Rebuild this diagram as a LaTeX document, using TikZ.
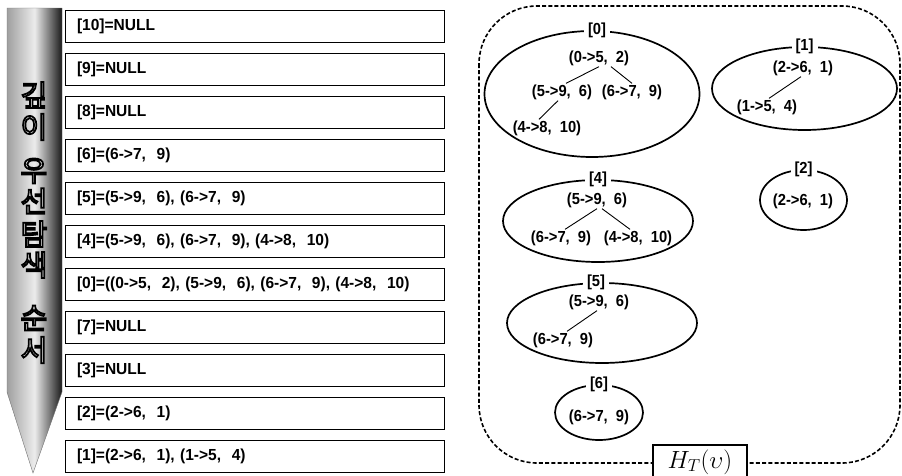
\documentclass[tikz,border=0pt]{standalone}
\usepackage{fontspec}
\setmainfont{Liberation Sans}
\newfontfamily\entryfont[FakeStretch=0.92]{Liberation Sans}
\newfontfamily\rowfont[FakeStretch=0.97]{Liberation Sans}
\newfontfamily\korfont[FakeBold=6]{Noto Sans CJK KR}
\usetikzlibrary{shapes.geometric,shadows}
% white glyph body, black stroke (the emboldening stroke takes the stroke colour)
\newcommand\rimmed[1]{\special{pdf:bcolor [1 1 1] [0 0 0]}#1\special{pdf:ecolor}}

\tikzset{
  rowbox/.style={draw, line width=0.9pt, fill=white, minimum height=32pt,
    text width=355pt, inner xsep=12pt, align=left,
    font=\rowfont\bfseries\fontsize{16}{16}\selectfont,
    drop shadow={shadow xshift=1.3pt, shadow yshift=-1.3pt, fill=black, opacity=1}},
  grp/.style={ellipse, draw, line width=1.7pt, inner sep=0pt},
  grplabel/.style={fill=white, inner xsep=4pt, inner ysep=1pt,
    font=\entryfont\bfseries\fontsize{16}{16}\selectfont},
  entry/.style={inner sep=1pt, font=\entryfont\bfseries\fontsize{16}{16}\selectfont},
  treeedge/.style={line width=0.9pt},
  hanchar/.style={font=\korfont\fontsize{29}{29}\selectfont, inner sep=0pt},
}

\begin{document}
\begin{tikzpicture}[x=1pt, y=-1pt]
\useasboundingbox (0,0) rectangle (902,475);
\clip (0,0) rectangle (902,475);

% search-order arrow
\shade[left color=gray!75, right color=black!90, middle color=white!85!gray,
       draw=black!55, line width=0.4pt]
  (7,8) -- (62,8) -- (62,392) -- (33,473) -- (7,392) -- cycle;

% vertical caption: white letters with a black rim
\foreach \ch/\yy [count=\k] in {깊/95, 이/127, 우/171, 선/201, 탐/234, 색/265, 순/318, 서/350}
  \node[hanchar] (hk\k) at (34,\yy) {\rimmed{\ch}};

% row list
\node[rowbox] (r10) at (254.5,26)  {[10]=NULL};
\node[rowbox] (r9)  at (254.5,69)  {[9]=NULL};
\node[rowbox] (r8)  at (254.5,112) {[8]=NULL};
\node[rowbox] (r6)  at (254.5,155) {[6]=(6->7,\ \ 9)};
\node[rowbox] (r5)  at (254.5,198) {[5]=(5->9,\ \ 6), (6->7,\ \ 9)};
\node[rowbox] (r4)  at (254.5,241) {[4]=(5->9,\ \ 6), (6->7,\ \ 9), (4->8,\ \ 10)};
\node[rowbox] (r0)  at (254.5,284) {[0]=((0->5,\ \ 2), (5->9,\ \ 6), (6->7,\ \ 9), (4->8,\ \ 10)};
\node[rowbox] (r7)  at (254.5,327) {[7]=NULL};
\node[rowbox] (r3)  at (254.5,370) {[3]=NULL};
\node[rowbox] (r2)  at (254.5,413) {[2]=(2->6,\ \ 1)};
\node[rowbox] (r1)  at (254.5,456) {[1]=(2->6,\ \ 1), (1->5,\ \ 4)};

% dashed frame of H_T(v)
\draw[dashed, dash pattern=on 4pt off 2.2pt, line width=1.6pt, rounded corners=58pt]
  (479,6) rectangle (900,463);
\node[draw, fill=white, line width=1.3pt, minimum width=94pt, minimum height=34pt,
      inner sep=0pt] (ht) at (700,462) {\fontsize{24}{24}\selectfont$H_{T}(\upsilon)$};

% group [0]
\node[grp, minimum width=215pt, minimum height=126pt] (e0) at (592,94) {};
\node[grplabel] (g0) at ([xshift=5pt]e0.north) {[0]};
\node[entry] (a0) at (599,58)  {(0->5,\ \ 2)};
\node[entry] (a1) at (562,92)  {(5->9,\ \ 6)};
\node[entry] (a2) at (632,92)  {(6->7,\ \ 9)};
\node[entry] (a3) at (547,128) {(4->8,\ \ 10)};
\draw[treeedge] (a0.south) -- ([xshift=4pt]a1.north);
\draw[treeedge] ([xshift=12pt]a0.south) -- (a2.north);
\draw[treeedge] ([xshift=-4pt]a1.south) -- ([xshift=-8pt]a3.north);

% group [1]
\node[grp, minimum width=185pt, minimum height=83pt] (e1) at (804.5,88.5) {};
\node[grplabel] (g1) at (e1.north) {[1]};
\node[entry] (b0) at (803,68)  {(2->6,\ \ 1)};
\node[entry] (b1) at (767,107) {(1->5,\ \ 4)};
\draw[treeedge] ([xshift=-2pt]b0.south) -- ([xshift=2pt]b1.north);

% group [2]
\node[grp, minimum width=87pt, minimum height=60pt] (e2) at (803.5,200) {};
\node[grplabel] (g2) at (e2.north) {[2]};
\node[entry] (c0) at (803,201) {(2->6,\ \ 1)};

% group [4]
\node[grp, minimum width=190pt, minimum height=82pt] (e4) at (598,221) {};
\node[grplabel] (g4) at (e4.north) {[4]};
\node[entry] (d0) at (597,200) {(5->9,\ \ 6)};
\node[entry] (d1) at (561,238) {(6->7,\ \ 9)};
\node[entry] (d2) at (638,238) {(4->8,\ \ 10)};
\draw[treeedge] (d0.south) -- ([xshift=4pt]d1.north);
\draw[treeedge] ([xshift=5pt]d0.south) -- ([xshift=-8pt]d2.north);

% group [5]
\node[grp, minimum width=190pt, minimum height=80pt] (e5) at (602,323) {};
\node[grplabel] (g5) at ([xshift=-6pt]e5.north) {[5]};
\node[entry] (f0) at (599,302) {(5->9,\ \ 6)};
\node[entry] (f1) at (563,340) {(6->7,\ \ 9)};
\draw[treeedge] ([xshift=-2pt]f0.south) -- ([xshift=4pt]f1.north);

% group [6]
\node[grp, minimum width=88pt, minimum height=55pt] (e6) at (599,412.5) {};
\node[grplabel] (g6) at (e6.north) {[6]};
\node[entry] (h0) at (599,417) {(6->7,\ \ 9)};
\end{tikzpicture}
\end{document}
